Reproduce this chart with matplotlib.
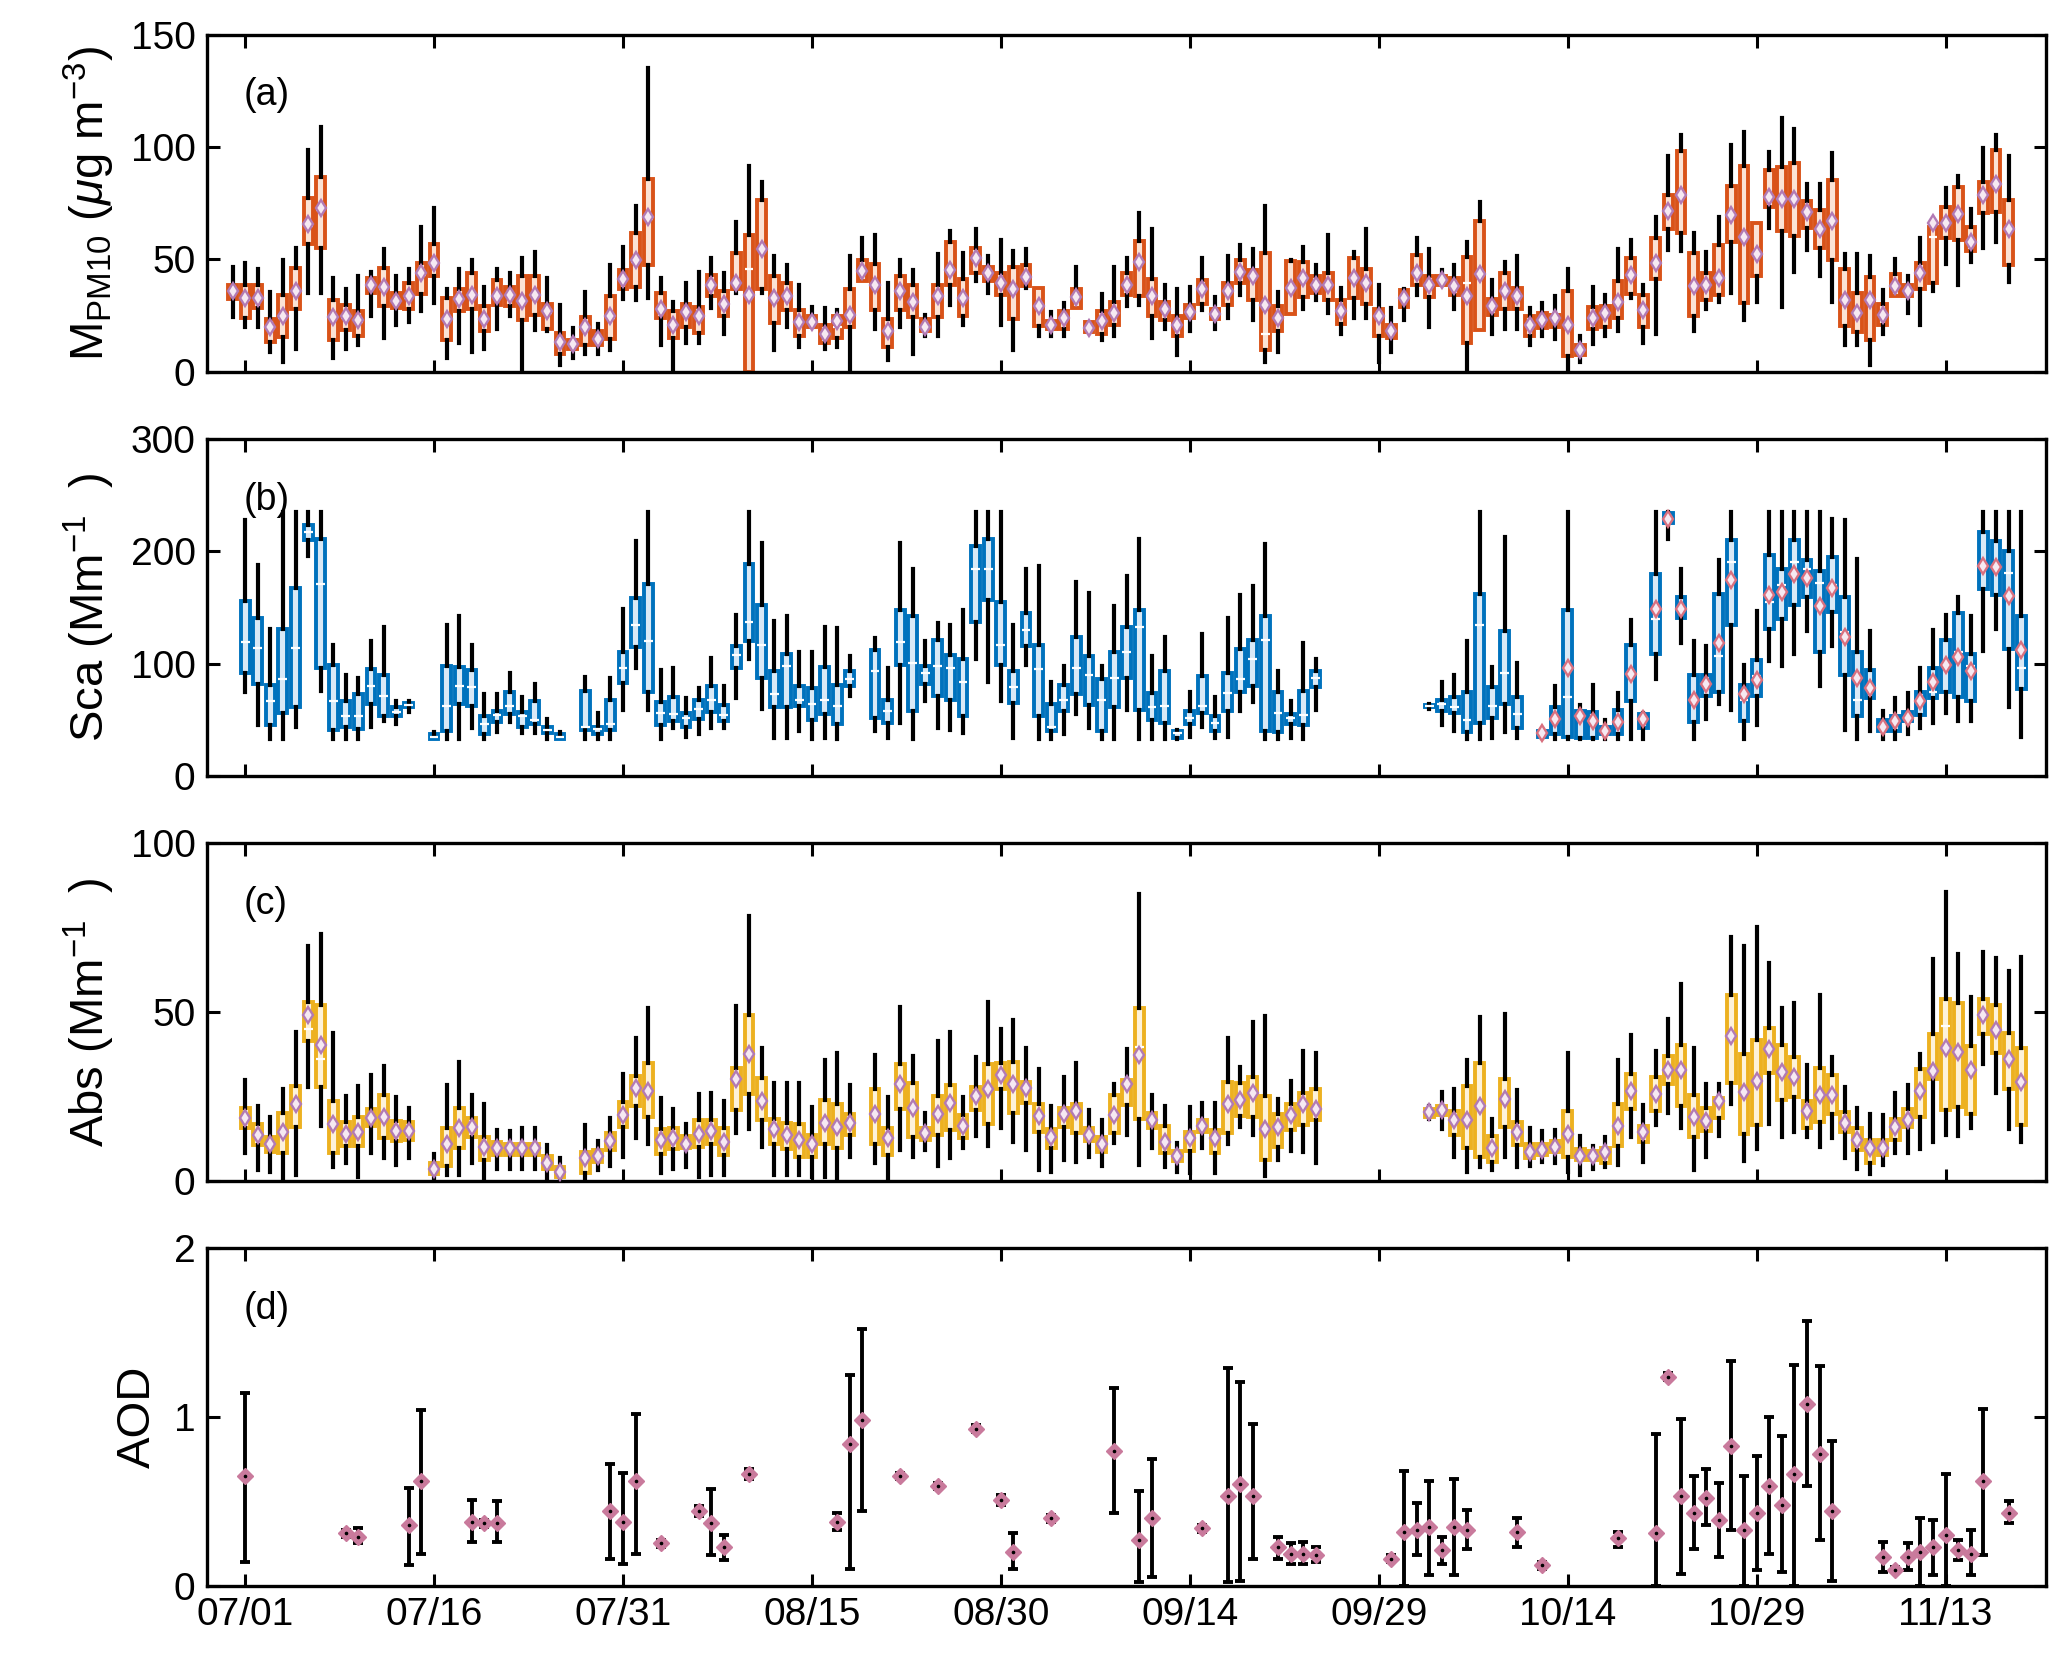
import matplotlib
matplotlib.use("Agg")
import matplotlib.pyplot as plt
import numpy as np

plt.rcParams["font.family"] = ["Liberation Sans", "DejaVu Sans"]
plt.rcParams["mathtext.fontset"] = "custom"
plt.rcParams["mathtext.rm"] = "Liberation Sans"
plt.rcParams["mathtext.it"] = "Liberation Sans:italic"

# day offsets are counted from 07/01
TICK_DAYS = [0, 15, 30, 45, 60, 75, 90, 105, 120, 135]
TICK_LABELS = ["07/01", "07/16", "07/31", "08/15", "08/30",
               "09/14", "09/29", "10/14", "10/29", "11/13"]

# ---- (a) M_PM10 ----
A_DAYS = list(range(-1, 141))
A_LOW = [24.2, 20.1, 20, 9, 4.2, 10, 35, 35, 6, 10, 12, 24.6, 15, 21, 22, 26.9, 30.6, 6, 12.7, 9,
         10.1, 19, 24.6, 0, 18.7, 17.9, 3, 6, 7.9, 7.9, 9.7, 32.5, 32.1, 33, 12, 0, 12.7, 12.7, 28.4, 16.9,
         35, 0, 35, 9.7, 20.1, 11.2, 20.1, 10.1, 11.2, 0, 40.3, 19, 5.2, 20.1, 7.9, 15.7, 16, 29.9, 20.6, 40.3,
         35, 20.9, 9.7, 37.3, 16, 16, 16, 28.4, 17.5, 14.2, 16, 29.1, 29.9, 14.9, 19.1, 7.5, 17.9, 27.6, 19.1, 23.9,
         34, 22.8, 4.2, 9, 25.8, 28.1, 32.1, 26.1, 16.9, 23.9, 23.9, 4.5, 9, 22.8, 34, 20.1, 38.8, 28.1, 0, 18.4,
         16.9, 19.1, 19.1, 11.9, 16.1, 14.6, 0.7, 4.2, 12.2, 16, 17.9, 32.8, 12.7, 16.9, 54.2, 53.7, 17.9, 28.1, 31, 35,
         22.8, 31, 63.9, 28.8, 44.5, 54.2, 42.5, 31, 11.9, 11.9, 3, 16.9, 33.6, 26.1, 20.9, 36.1, 48.1, 38.8, 49, 55.2,
         57.9, 40]
A_Q1 = [32.5, 23.9, 28.4, 13.1, 15.4, 28.1, 57, 55.2, 14.2, 18.7, 16.1, 35.1, 29.4, 28.4, 28, 34.6, 42.5, 14.2, 26.9, 28,
        17.9, 29.6, 29.4, 22.8, 25.4, 19.1, 7.8, 10.1, 11.9, 11.9, 14.6, 36.6, 37.6, 47.3, 23.9, 14.9, 20.1, 17.2, 33.6, 24.9,
        36.6, 0, 36.9, 21.9, 27.6, 16.1, 20.1, 12.7, 14.9, 20.1, 40.3, 27.6, 10.9, 27.6, 24.3, 17.9, 24.3, 38.8, 25, 44,
        40.3, 34, 23.4, 38.1, 20.4, 19, 19, 28.4, 17.5, 16.7, 20.9, 34, 33.6, 24.6, 23.1, 15.7, 23.9, 30.3, 23.6, 29.9,
        39.6, 31.8, 9.7, 17.9, 25.8, 33.1, 35.1, 32.1, 21.2, 32.8, 30.3, 16.1, 14.9, 28.8, 38.5, 33.3, 38.8, 34, 12.7, 18.4,
        25.4, 28.1, 28.1, 16, 19.4, 20.1, 7, 7.5, 19.1, 20.1, 23.9, 34.8, 20.1, 41.3, 63.4, 61.6, 24.9, 31.8, 34, 57.8,
        30.6, 42.5, 73.4, 62.4, 60.4, 63.9, 55.2, 49.7, 20.4, 17.5, 14.2, 20.9, 33.6, 33.6, 36.9, 39.3, 59.3, 58.7, 53.7, 70.6,
        71.2, 47.5]
A_MED = [36, 32, 33, 20, 24, 36, 65, 72, 24, 24, 22, 38, 37, 31, 33, 43, 48, 23, 32, 34,
         23, 33, 34, 31, 34, 26, 13, 12, 20, 14, 24, 41, 49, 68, 28, 21, 26, 25, 39, 30,
         40, 45.5, 55, 32, 34, 22, 22, 17, 20, 25, 45, 39, 18, 36, 31, 20, 34, 45, 33, 51,
         44, 40, 37, 42, 29, 21, 24, 33, 19, 22, 26, 39, 49, 34, 28, 21, 27, 37, 26, 36,
         45, 43, 16.9, 24, 37, 42, 38, 38, 27, 42, 40, 25, 18, 33, 44, 39, 41, 38, 39.6, 43,
         29, 36, 34, 21, 23, 24, 21, 10, 24, 26, 31, 43, 27, 49, 72, 79, 38, 38, 42, 70,
         60, 52, 78, 77, 77, 71, 63, 67, 32, 26, 32, 25, 38, 36, 44, 60, 66, 70, 58, 79,
         84, 64]
A_Q3 = [38.8, 38.8, 38.8, 23.4, 34, 46.3, 77.3, 86.6, 31.8, 29.9, 27.2, 41.8, 46, 35, 39.6, 48.5, 57, 32.8, 36.6, 44,
        29.4, 41, 37.6, 42.5, 42.5, 30.3, 17.2, 14.2, 24.3, 17.9, 33.9, 45.2, 61.9, 85.8, 35, 26.9, 30.1, 28.8, 43, 35.8,
        53, 60.7, 76.4, 42.5, 39.3, 27.6, 24.6, 20.9, 24.9, 36.9, 49.7, 47.8, 23.4, 42.5, 38.8, 23.4, 38.4, 57.8, 41.3, 55.2,
        46.7, 44, 46.7, 47.3, 37.3, 22.4, 26.9, 36.6, 22.1, 27.2, 30.9, 44, 58.2, 41.3, 30.9, 24.9, 29.9, 40.7, 28.1, 39.6,
        49.7, 45.2, 53, 29.4, 49.3, 48.8, 42.5, 44, 32.1, 50.7, 45.5, 28.1, 20.6, 36.3, 51.9, 42.5, 42.5, 41.8, 51.2, 67.2,
        32.5, 44, 37.3, 24.6, 26.1, 25.4, 35.8, 11.9, 28.8, 29.4, 40.3, 50.7, 34, 59.7, 78.8, 98, 53, 44, 56.4, 82.8,
        91.5, 66, 89.9, 91, 92.8, 76.1, 72.1, 85.4, 45.5, 35, 42.1, 30.1, 43.6, 38.8, 48.5, 64.5, 73.1, 82.1, 64.6, 84.3,
        98.5, 76.4]
A_HIGH = [46.6, 48.5, 45.5, 35.4, 49.6, 55.2, 98.8, 108.7, 41.5, 36.6, 42.5, 44.5, 54.5, 42.5, 45.5, 64.6, 72.7, 36.6, 45.5, 49.6,
          37.6, 45.5, 44, 50.4, 53.4, 41.5, 29.6, 19.4, 35.5, 21.3, 47.5, 55.5, 73.9, 135, 41.5, 31, 39.6, 44.5, 50.4, 44,
          66.4, 91.5, 84.6, 51.5, 47.5, 38.5, 28.8, 28.4, 27.6, 51.5, 59.4, 60.7, 39.6, 49.7, 45.1, 25.4, 52.5, 62.4, 53, 63.4,
          51.5, 58.5, 53.7, 54.5, 37.3, 26.4, 30.6, 46.6, 22.1, 34.6, 46.7, 50.4, 70.6, 63.4, 38.4, 36.6, 37.6, 50.4, 33.3, 51.5,
          56.4, 54.5, 73.6, 35.4, 49.6, 55.5, 47.5, 60.7, 37.3, 53.4, 63.7, 38.5, 28.4, 36.6, 59.4, 54.5, 45.2, 47.5, 57.8, 75.4,
          40.6, 49, 51.5, 28.4, 30.6, 33.6, 45.5, 16, 37.6, 34.3, 54.5, 58.5, 38.8, 68.7, 95.8, 105.5, 61.5, 53.4, 68.7, 100.7,
          106.7, 66, 97.8, 112.7, 107.8, 83.6, 83.6, 97.5, 52.5, 52.2, 51.5, 36.3, 50.3, 42.5, 59.7, 66.7, 81.6, 86.9, 72.4, 99.7,
          105.5, 95.8]
A_MEAN = [35.8, 32.8, 33, 19.9, 24.6, 36, 65.7, 72.7, 24.3, 24.6, 22.8, 38.4, 37.6, 31.3, 33.6, 44, 48.5, 23.4, 32.5, 34.3,
          23.4, 33.6, 34, 31.3, 34, 26.9, 13.4, 12.4, 20.1, 14.6, 24.6, 41.3, 49.6, 68.7, 28, 20.9, 26.4, 25, 38.8, 30.3,
          39.6, 34, 54.8, 32.8, 33.9, 22.1, 22.1, 16.9, 22.4, 25.4, 44.8, 38.8, 17.9, 36.1, 30.9, 20.1, 33.6, 45.2, 32.8, 50.7,
          43.7, 39.6, 36.6, 42.2, 29.4, 20.9, 23.9, 33.1, 19.4, 22.4, 26.1, 38.8, 49, 33.6, 28.1, 20.9, 26.6, 36.6, 25.8, 35.8,
          44.5, 42.8, 29.9, 23.9, 37.3, 41.8, 38.4, 38.4, 27.2, 41.8, 39.6, 24.9, 17.9, 32.8, 44, 38.8, 40.6, 38.1, 33.6, 43.3,
          29.1, 35.8, 33.6, 20.9, 23.1, 23.9, 20.9, 9.7, 23.9, 26.1, 31, 43, 27.3, 48.5, 71.6, 78.7, 38.1, 38.4, 41.8, 69.7,
          60, 52.2, 77.9, 76.9, 76.9, 70.9, 63.4, 67.2, 31.8, 26.1, 32.1, 25.4, 38.1, 35.8, 44, 66, 66, 70.1, 57.5, 78.7,
          83.6, 63.7]

# ---- (b) scattering ----
B_DAYS = (list(range(0, 14)) + list(range(15, 26)) + list(range(27, 49)) + list(range(50, 86))
          + list(range(94, 102)) + list(range(103, 142)))
B_LOW = [75, 45, 33, 33, 44, 196, 76, 33, 33, 33, 44, 49, 46, 57,
         33, 33, 33, 43, 33, 39, 48, 38, 38, 33, 33,
         33, 33, 33, 59, 96, 59, 33, 43, 35, 37, 43, 43, 69, 104, 60, 34, 34, 40, 33, 34, 33, 71,
         40, 34, 47, 33, 67, 43, 41, 38, 104, 84, 67, 34, 99, 33, 33, 37, 55, 43, 33, 33, 59, 33,
         33, 33, 33, 35, 44, 34, 35, 58, 66, 33, 33, 34, 33, 59,
         60, 45, 40, 33, 33, 34, 39, 34,
         34, 33, 33, 33, 33, 33, 33, 33, 33, 86, 211, 118, 33, 51, 64, 59, 33, 45, 102, 98, 109, 129, 80, 116,
         41, 33, 40, 33, 33, 37, 43, 47, 56, 49, 49, 111, 131, 61, 35]
B_Q1 = [92, 82, 45, 56, 61, 210, 96, 41, 44, 42, 64, 53, 53, 61,
        33, 40, 64, 62, 37, 48, 55, 44, 46, 38, 33,
        41, 37, 41, 83, 115, 75, 45, 49, 44, 51, 57, 49, 96, 120, 87, 61, 61, 62, 50, 55, 46, 80,
        52, 47, 99, 58, 82, 71, 68, 53, 137, 157, 99, 65, 116, 53, 40, 58, 73, 63, 40, 61, 87, 59,
        50, 47, 34, 46, 56, 40, 58, 75, 80, 40, 39, 46, 45, 79,
        61, 58, 56, 39, 47, 52, 64, 43,
        35, 37, 35, 34, 34, 37, 37, 67, 43, 109, 225, 141, 48, 71, 75, 134, 49, 71, 131, 140, 152, 159, 110, 146,
        90, 53, 69, 40, 40, 49, 54, 69, 75, 70, 67, 166, 161, 113, 77]
B_MED = [119, 114, 67, 86, 114, 217, 171, 67, 53, 53, 80, 71, 57, 63,
         35, 62, 80, 79, 46, 54, 62, 53, 50, 41, 35,
         44, 42, 46, 96, 134, 120, 56, 55, 52, 60, 68, 54, 108, 137, 117, 73, 98, 68, 64, 68, 62, 86,
         93, 58, 119, 101, 92, 98, 96, 84, 184, 184, 117, 79, 130, 95, 44, 68, 96, 90, 68, 87, 110, 133,
         61, 62, 38, 52, 62, 47, 74, 86, 104, 121, 56, 52, 54, 87,
         62, 64, 61, 50, 134, 62, 92, 55,
         38, 53, 70, 53, 50, 41, 46, 92, 52, 140, 229, 150, 68, 82, 107, 190, 68, 89, 155, 170, 190, 184, 172, 170,
         128, 68, 79, 44, 49, 52, 68, 75, 99, 110, 98, 187, 187, 181, 96]
B_Q3 = [156, 141, 81, 131, 167, 223, 211, 99, 67, 73, 95, 90, 61, 65,
        37, 98, 97, 94, 53, 58, 75, 57, 67, 44, 37,
        76, 44, 68, 110, 158, 171, 66, 70, 56, 68, 80, 63, 116, 189, 152, 93, 109, 80, 78, 97, 81, 93,
        112, 68, 148, 142, 98, 121, 108, 104, 205, 211, 155, 93, 145, 117, 64, 81, 124, 107, 86, 110, 133, 148,
        74, 93, 40, 58, 89, 53, 92, 113, 121, 142, 75, 55, 76, 93,
        63, 68, 70, 75, 162, 79, 129, 70,
        40, 61, 148, 58, 57, 44, 59, 117, 55, 180, 234, 159, 90, 90, 162, 210, 81, 103, 197, 184, 210, 192, 182, 195,
        159, 110, 94, 50, 53, 57, 75, 96, 121, 145, 109, 217, 209, 200, 142]
B_HIGH = [228, 188, 131, 235, 235, 235, 235, 117, 90, 87, 120, 133, 67, 67,
          39, 134, 142, 117, 73, 73, 92, 70, 82, 51, 39,
          88, 56, 87, 149, 209, 235, 94, 96, 69, 78, 105, 80, 143, 235, 207, 138, 142, 110, 110, 133, 132, 107,
          123, 96, 207, 184, 120, 136, 134, 148, 235, 235, 235, 134, 184, 187, 84, 98, 173, 163, 98, 151, 178, 211,
          107, 124, 41, 75, 126, 70, 141, 161, 169, 206, 93, 67, 118, 104,
          64, 84, 90, 120, 235, 97, 213, 101,
          41, 80, 235, 63, 81, 50, 74, 139, 56, 235, 235, 184, 120, 116, 192, 235, 99, 147, 235, 235, 235, 235, 235, 229,
          228, 193, 129, 58, 69, 74, 96, 130, 143, 159, 142, 235, 235, 235, 235]
B_MEAN_DAYS = list(range(103, 142))
B_MEAN = [38, 51, 96, 53, 49, 40, 48, 91, 51, 149, 229, 149, 68, 82, 118, 174, 73, 85, 161, 164, 180, 176, 151, 167,
          124, 87, 78, 44, 49, 52, 67, 84, 99, 106, 93, 187, 186, 160, 112]

# ---- (c) absorption ----
C_DAYS = (list(range(0, 14)) + list(range(15, 26)) + list(range(27, 49)) + list(range(50, 86))
          + list(range(94, 142)))
C_LOW = [8.1, 3.2, 2.7, 0.7, 1.7, 27.8, 16.2, 3.9, 5.1, 1.2, 8.3, 6.6, 4.6, 6.8,
         0, 1.7, 1.7, 5.1, 0, 3.6, 3.6, 3.6, 3.6, 0, 0,
         0, 3.2, 4.3, 7.1, 12.7, 11, 2.4, 3.6, 4.1, 1.2, 1.7, 1.7, 14, 15.2, 10.1, 1.7, 1.7, 1.7, 1.2, 1.2, 0.9, 7.1,
         5.1, 0, 9.1, 7.1, 9.1, 4.3, 6.6, 9.6, 13.2, 10.4, 15.5, 11.5, 9.1, 3.2, 2.7, 6.1, 5.6, 7.1, 4.3, 11.2,
         13.5, 4.6, 9.6, 3.9, 2.7, 2.2, 9.6, 2.2, 11, 15.8, 13.5, 1.4, 6.1, 8.9, 8.6, 5.3,
         18.2, 15.2, 7.1, 2.7, 4.1, 3.2, 6.9, 4.1, 4.3, 5.6, 5.1, 2.7, 1.7, 3.6, 3.9, 4.6, 13, 5.6, 16.5, 20.1,
         15.5, 3.2, 7.1, 13.2, 22.7, 5.9, 9.4, 16.8, 12.8, 14.5, 13, 10.1, 12.5, 6.6, 3.6, 2, 4.6, 8.1, 8.3, 9.3,
         11.5, 13.5, 13.2, 15.5, 34.5, 26, 15.2, 11.5]
C_Q1 = [15.5, 10.6, 8.6, 8.1, 16, 41.4, 27.8, 8.3, 10.4, 10.3, 16.2, 12.7, 11.7, 12,
        2, 4.3, 9.6, 13, 6.1, 7.6, 7.6, 7.6, 7.6, 3.6, 1.2,
        2.4, 5.6, 9.1, 16, 22.2, 18.9, 7.8, 9.3, 9.6, 10.1, 11, 7.6, 20.9, 25.8, 18.1, 11, 9.3, 7.1, 7.1, 11, 9.6, 13.5,
        11, 7.6, 21.2, 13, 12, 13.5, 15, 12.7, 20.9, 16.7, 27.3, 20.2, 23.1, 14.5, 9.6, 16, 14, 11.7, 8.6, 14,
        22.4, 18.4, 15.5, 8.1, 5.9, 8.9, 14.5, 8.3, 14.2, 19.1, 18.9, 6.1, 10.1, 15, 16.5, 18.1,
        18.9, 19.4, 13.5, 9.6, 7.1, 5.6, 16, 10.7, 6.6, 7.6, 8.6, 7.1, 6.1, 6.1, 5.1, 10.4, 21.1, 11.5, 20.7, 28.6,
        22.1, 13, 14.8, 18.6, 29, 13.8, 16.5, 32, 23.9, 24.9, 15.7, 17.5, 19.9, 14.5, 9.1, 5.1, 7.6, 12.2, 16, 18.9,
        30.1, 20.9, 21.9, 19.9, 43.6, 37.9, 27.3, 16.5]
C_MED = [18.5, 13.5, 11, 14.5, 22.5, 45, 36, 16.5, 13.8, 14.5, 18.7, 18.9, 14.8, 14.8,
         3.6, 11, 15.5, 16, 10.1, 9.6, 9.6, 9.6, 9.6, 5.3, 2.7,
         6.6, 7.3, 11.8, 19.4, 27.6, 26.5, 12.2, 12.5, 11, 13.8, 14.8, 11.5, 30, 37.5, 23.7, 15.2, 13.5, 12.2, 10.8, 17.2, 16, 17.2,
         19.9, 12.5, 28.6, 21.6, 14, 19.9, 23.1, 16.2, 25, 27.3, 31.3, 28.6, 27.6, 19.1, 12.8, 19.9, 20.6, 13.5, 11, 19.6,
         28.6, 39.6, 17.9, 11.5, 7.3, 12.5, 16.2, 12.5, 22.6, 23.9, 26.1, 15.2, 15.8, 19.4, 22.7, 21.2,
         20.4, 20.9, 18.1, 18.1, 22.1, 9.6, 24.2, 14.5, 8.6, 9.1, 10.1, 13.8, 7.3, 7.3, 8.6, 16.2, 26.6, 14.3, 25.8, 32.7,
         32.7, 18.9, 17.8, 23.7, 42.8, 26.3, 29.5, 39, 32.2, 30.8, 20.6, 25.3, 25.3, 17, 12.2, 9.6, 9.6, 15.8, 18.1, 26.6,
         32.5, 46, 38.2, 32.7, 49, 44.8, 36.2, 29.3]
C_Q3 = [21.6, 16.8, 12.8, 20.1, 28.1, 53, 52, 23.7, 17.3, 18.9, 21.1, 25.3, 17.7, 17.3,
        5.1, 15.5, 21.4, 18.7, 13, 11.5, 11, 11, 11, 7.3, 4.1,
        8.6, 9.1, 14, 23.2, 31.1, 34.9, 15.2, 15.5, 13.2, 18.1, 18.1, 15.5, 33.5, 49.2, 30.3, 18.4, 17, 16.7, 13.5, 23.9, 22.7, 19.9,
        27.1, 15.5, 34.5, 29, 15.5, 25, 28.3, 19.6, 27.8, 34.7, 34.9, 35.2, 29.3, 22.7, 15.2, 21.6, 22.6, 15.7, 13, 25.5,
        29.8, 51.3, 20.1, 16.2, 8.9, 14.3, 18.1, 15, 29.3, 29, 30.6, 25, 19.9, 22.7, 26, 27.3,
        21.1, 22.1, 20.7, 28, 34.9, 13.2, 30, 17.5, 11, 11, 11.8, 20.6, 9.3, 8.9, 9.6, 22.6, 31.6, 16.3, 30.8, 36.9,
        40.1, 25.3, 21.6, 24.4, 55.2, 37.5, 41.6, 45.3, 40.3, 36.7, 23.7, 33.5, 31.3, 20.4, 15.5, 12.2, 12.2, 18.4, 21.1, 33.2,
        43.4, 53.9, 52.7, 39.8, 53.9, 52, 43.8, 39.2]
C_HIGH = [29.8, 22.1, 18.9, 27.3, 44.1, 69.5, 73.2, 43.9, 25, 28.1, 31.3, 33.9, 24.7, 21.4,
          7.8, 28.5, 35.2, 25.3, 22.7, 15, 14.8, 15.7, 15.7, 10.7, 6.8,
          16.5, 11.8, 18.7, 31.5, 42.3, 51.2, 24.4, 21.2, 16.8, 25.6, 26.1, 23.6, 51.7, 78.4, 39.3, 29, 29, 29.1, 21.9, 35.7, 37.9, 28.3,
          37.2, 24.9, 51.5, 36.9, 20.1, 41.4, 44.1, 24.9, 36.7, 53, 45.1, 47.5, 39.2, 33, 22.2, 30.6, 34.9, 20.9, 17.9, 28.8,
          38.9, 85, 25.3, 22.1, 11.2, 21.9, 23.1, 23.1, 42.3, 33.7, 47, 48.7, 24.1, 29.6, 38.4, 38,
          22.1, 26.3, 27.3, 35.7, 48.5, 18.2, 49.3, 27, 15.5, 14.8, 15, 38, 13.2, 10.3, 12.8, 35.7, 43.3, 22.4, 38.5, 48,
          58.2, 39.2, 28.6, 28.8, 72.2, 69.5, 75.1, 64.5, 51.3, 52.7, 34.4, 55.2, 36.7, 27.8, 21.4, 19.7, 19.4, 26, 28.5, 37.5,
          65.6, 85.5, 67.1, 54.6, 67.9, 66.1, 62.3, 66.3]
C_MEAN = [18.7, 13.5, 11, 14.5, 22.7, 49.2, 40.3, 16.8, 13.8, 14.5, 18.7, 18.9, 14.8, 14.8,
          3.6, 11, 15.5, 16, 10.1, 9.6, 9.6, 9.6, 9.6, 5.3, 2.7,
          6.6, 7.3, 11.8, 19.4, 27.6, 26.5, 12.2, 12.5, 11, 13.8, 14.8, 11.5, 30.1, 37.5, 23.7, 15.2, 13.5, 12.2, 10.8, 17.2, 16, 17.2,
          19.9, 12.5, 28.6, 21.6, 14, 19.9, 23.1, 16.2, 25, 27.3, 31.3, 28.6, 27.6, 19.1, 12.8, 19.9, 20.6, 13.5, 11, 19.6,
          28.6, 37.2, 17.9, 11.5, 7.3, 12.5, 16.2, 12.5, 22.6, 23.9, 26.1, 15.2, 15.8, 19.4, 22.7, 21.2,
          20.4, 20.9, 18.1, 18.1, 22.1, 9.6, 24.2, 14.5, 8.6, 9.1, 10.1, 13.8, 7.3, 7.3, 8.6, 16.2, 26.6, 14.3, 25.8, 32.7,
          32.7, 18.9, 17.8, 23.7, 42.8, 26.3, 29.5, 39, 32.2, 30.8, 20.6, 25.3, 25.3, 17, 12.2, 9.6, 9.6, 15.8, 18.1, 26.6,
          32.5, 39.3, 38.2, 32.7, 49, 44.8, 36.2, 29.3]

# ---- (d) AOD ----
D_DAYS = [0, 8, 9, 13, 14, 18, 19, 20, 29, 30, 31, 33, 36, 37, 38, 40, 47, 48, 49, 52,
          55, 58, 60, 61, 64, 69, 71, 72, 76, 78, 79, 80, 82, 83, 84, 85, 91, 92, 93, 94,
          95, 96, 97, 101, 103, 109, 112, 113, 114, 115, 116, 117, 118, 119, 120, 121, 122, 123, 124, 125,
          126, 130, 131, 132, 133, 134, 135, 136, 137, 138, 140]
D_MEAN = [0.65, 0.31, 0.29, 0.36, 0.62, 0.38, 0.37, 0.37, 0.44, 0.38, 0.62, 0.25, 0.44, 0.37, 0.23, 0.66, 0.38, 0.84, 0.98, 0.65,
          0.59, 0.93, 0.51, 0.20, 0.40, 0.80, 0.27, 0.40, 0.34, 0.53, 0.60, 0.53, 0.23, 0.19, 0.19, 0.18, 0.16, 0.32, 0.33, 0.35,
          0.21, 0.35, 0.33, 0.32, 0.12, 0.28, 0.31, 1.24, 0.53, 0.43, 0.52, 0.39, 0.83, 0.33, 0.43, 0.59, 0.48, 0.66, 1.08, 0.78,
          0.44, 0.17, 0.09, 0.17, 0.20, 0.23, 0.30, 0.21, 0.19, 0.62, 0.43]
D_LOW = [0.14, 0.29, 0.25, 0.12, 0.19, 0.26, 0.35, 0.26, 0.16, 0.13, 0.19, 0.23, 0.41, 0.18, 0.15, 0.63, 0.33, 0.10, 0.44, 0.63,
         0.57, 0.91, 0.48, 0.10, 0.38, 0.43, 0.02, 0.05, 0.32, 0.02, 0.03, 0.16, 0.16, 0.13, 0.13, 0.14, 0.14, 0.0, 0.18, 0.06,
         0.13, 0.06, 0.22, 0.23, 0.10, 0.23, 0.0, 1.22, 0.07, 0.22, 0.36, 0.17, 0.33, 0.0, 0.09, 0.19, 0.08, 0.0, 0.59, 0.27,
         0.03, 0.08, 0.08, 0.09, 0.0, 0.06, 0.0, 0.15, 0.06, 0.18, 0.37]
D_HIGH = [1.14, 0.33, 0.34, 0.58, 1.04, 0.51, 0.39, 0.50, 0.72, 0.67, 1.02, 0.27, 0.47, 0.57, 0.30, 0.69, 0.43, 1.25, 1.52, 0.67,
          0.61, 0.95, 0.54, 0.31, 0.42, 1.17, 0.56, 0.75, 0.36, 1.29, 1.21, 0.96, 0.29, 0.25, 0.26, 0.23, 0.18, 0.68, 0.49, 0.62,
          0.29, 0.63, 0.45, 0.40, 0.14, 0.32, 0.90, 1.26, 0.99, 0.65, 0.69, 0.61, 1.33, 0.65, 0.77, 1.00, 0.89, 1.31, 1.57, 1.30,
          0.86, 0.26, 0.11, 0.25, 0.40, 0.39, 0.66, 0.27, 0.33, 1.05, 0.50]


def draw_boxes(ax, days, low, q1, med, q3, high, edge, face):
    stats = [dict(whislo=l, q1=a, med=m, q3=b, whishi=h, fliers=[])
             for l, a, m, b, h in zip(low, q1, med, q3, high)]
    ax.bxp(stats, positions=days, widths=0.7, patch_artist=True,
           showcaps=False, showfliers=False, manage_ticks=False,
           boxprops=dict(facecolor=face, edgecolor=edge, linewidth=2.8),
           whiskerprops=dict(color="black", linewidth=3.0),
           medianprops=dict(color="white", linewidth=1.6))


def draw_means(ax, days, means, edge):
    ax.plot(days, means, linestyle="none", marker="d", markersize=8,
            markerfacecolor="#F6E9F2", markeredgecolor=edge,
            markeredgewidth=1.7, zorder=5)


def style_axis(ax, ylim, yticks, ylabel, tag, show_x=False):
    ax.set_xlim(-3.05, 143)
    ax.set_ylim(*ylim)
    ax.set_yticks(yticks)
    ax.set_xticks(TICK_DAYS)
    ax.set_xticklabels(TICK_LABELS if show_x else [])
    ax.tick_params(direction="in", length=9, width=2.2, labelsize=28,
                   top=True, right=True, pad=8)
    for s in ax.spines.values():
        s.set_linewidth(2.4)
    ax.set_ylabel(ylabel, fontsize=34, labelpad=10)
    ax.text(0.02, 0.82, tag, transform=ax.transAxes, fontsize=27,
            va="center", ha="left")


fig = plt.figure(figsize=(20.67, 16.61), dpi=100)
left, width, height = 0.100, 0.890, 0.203
ax_a = fig.add_axes([left, 0.7762, width, height])
ax_b = fig.add_axes([left, 0.5328, width, height])
ax_c = fig.add_axes([left, 0.2892, width, height])
ax_d = fig.add_axes([left, 0.0454, width, height])

draw_boxes(ax_a, A_DAYS, A_LOW, A_Q1, A_MED, A_Q3, A_HIGH, "#D95319", "#FBE3D5")
draw_means(ax_a, A_DAYS, A_MEAN, "#B27AB4")
style_axis(ax_a, (0, 150), [0, 50, 100, 150],
           r"M$_{\mathrm{PM10}}$ ($\mu$g m$^{-3}$)", "(a)")

draw_boxes(ax_b, B_DAYS, B_LOW, B_Q1, B_MED, B_Q3, B_HIGH, "#0072BD", "#D9E9F6")
draw_means(ax_b, B_MEAN_DAYS, B_MEAN, "#D9707F")
style_axis(ax_b, (0, 300), [0, 100, 200, 300], r"Sca (Mm$^{-1}$  )", "(b)")

draw_boxes(ax_c, C_DAYS, C_LOW, C_Q1, C_MED, C_Q3, C_HIGH, "#EDB120", "#FDF2DA")
draw_means(ax_c, C_DAYS, C_MEAN, "#B27AB4")
style_axis(ax_c, (0, 100), [0, 50, 100], r"Abs (Mm$^{-1}$  )", "(c)")

d_mean = np.array(D_MEAN)
ax_d.errorbar(D_DAYS, d_mean, yerr=[d_mean - np.array(D_LOW), np.array(D_HIGH) - d_mean],
              fmt="none", ecolor="black", elinewidth=2.8, capsize=3.5, capthick=2.8)
ax_d.plot(D_DAYS, D_MEAN, linestyle="none", marker="D", markersize=8,
          markerfacecolor="#C97A9C", markeredgecolor="#C97A9C", zorder=5)
ax_d.plot(D_DAYS, D_MEAN, linestyle="none", marker="o", markersize=1.6,
          color="black", zorder=6)
style_axis(ax_d, (0, 2), [0, 1, 2], "AOD", "(d)", show_x=True)

fig.align_ylabels([ax_a, ax_b, ax_c, ax_d])
fig.savefig("out.png", dpi=100)
